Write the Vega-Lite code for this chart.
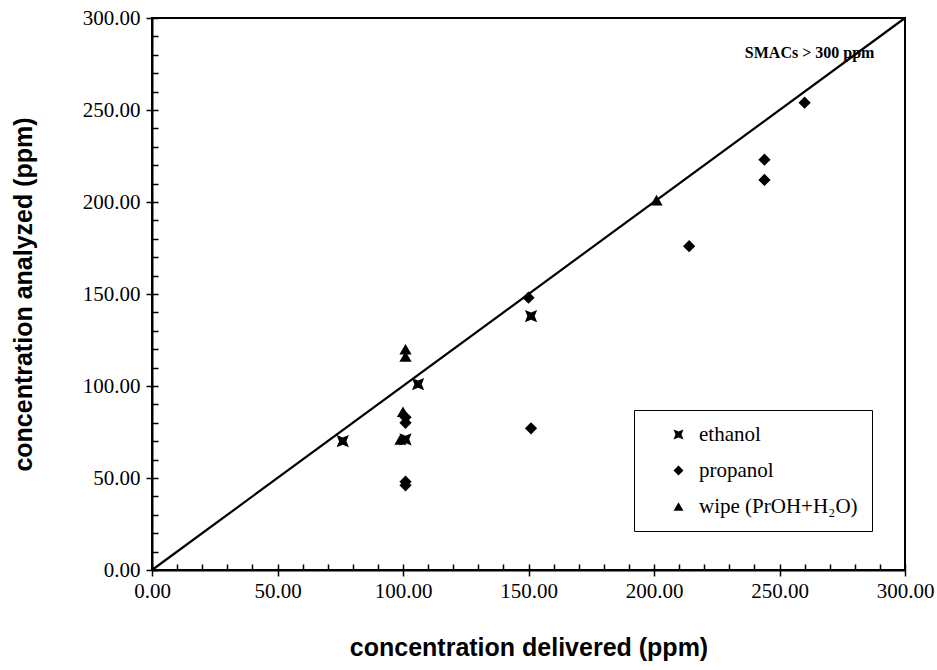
{
  "$schema": "https://vega.github.io/schema/vega-lite/v6.json",
  "width": 753,
  "height": 552,
  "autosize": {"type": "none"},
  "padding": {"left": 152, "top": 18, "right": 32, "bottom": 100},
  "background": "white",
  "config": {
    "view": {"stroke": "black", "strokeWidth": 2},
    "axis": {
      "grid": false,
      "domainColor": "black",
      "domainWidth": 2,
      "tickColor": "black",
      "tickWidth": 1.5,
      "labelFont": "Liberation Serif",
      "labelFontSize": 21,
      "labelColor": "black",
      "titleFont": "Liberation Sans",
      "titleFontWeight": "bold",
      "titleFontSize": 25,
      "titleColor": "black"
    }
  },
  "datasets": {
    "points": [
      {"x": 76, "y": 70, "s": "ethanol"},
      {"x": 101, "y": 71, "s": "ethanol"},
      {"x": 106, "y": 101, "s": "ethanol"},
      {"x": 151, "y": 138, "s": "ethanol"},
      {"x": 101, "y": 83, "s": "propanol"},
      {"x": 101, "y": 80, "s": "propanol"},
      {"x": 101, "y": 48, "s": "propanol"},
      {"x": 101, "y": 46, "s": "propanol"},
      {"x": 150, "y": 148, "s": "propanol"},
      {"x": 151, "y": 77, "s": "propanol"},
      {"x": 214, "y": 176, "s": "propanol"},
      {"x": 244, "y": 223, "s": "propanol"},
      {"x": 244, "y": 212, "s": "propanol"},
      {"x": 260, "y": 254, "s": "propanol"},
      {"x": 101, "y": 120, "s": "wipe (PrOH+H₂O)"},
      {"x": 101, "y": 116, "s": "wipe (PrOH+H₂O)"},
      {"x": 100, "y": 86, "s": "wipe (PrOH+H₂O)"},
      {"x": 99, "y": 71, "s": "wipe (PrOH+H₂O)"},
      {"x": 201, "y": 201, "s": "wipe (PrOH+H₂O)"}
    ],
    "diag": [{"x": 0, "y": 0}, {"x": 300, "y": 300}],
    "note": [{"x": 262, "y": 281, "label": "SMACs > 300 ppm"}]
  },
  "layer": [
    {
      "data": {"name": "diag"},
      "mark": {"type": "line", "color": "black", "strokeWidth": 2.2},
      "encoding": {
        "x": {"field": "x", "type": "quantitative", "scale": {"domain": [0, 300], "nice": false},
          "axis": {"orient": "bottom", "values": [0,10,20,30,40,50,60,70,80,90,100,110,120,130,140,150,160,170,180,190,200,210,220,230,240,250,260,270,280,290,300], "tickSize": -6, "labels": false, "domain": false, "title": null}},
        "y": {"field": "y", "type": "quantitative", "scale": {"domain": [0, 300], "nice": false},
          "axis": {"orient": "left", "values": [0,10,20,30,40,50,60,70,80,90,100,110,120,130,140,150,160,170,180,190,200,210,220,230,240,250,260,270,280,290,300], "tickSize": -6, "labels": false, "domain": false, "title": null}}
      }
    },
    {
      "data": {"name": "points"},
      "mark": {"type": "point", "filled": true, "opacity": 1, "color": "black", "size": 150},
      "encoding": {
        "x": {"field": "x", "type": "quantitative", "scale": {"domain": [0, 300], "nice": false},
          "axis": {"orient": "bottom", "values": [0, 50, 100, 150, 200, 250, 300], "format": ".2f", "tickSize": 6, "labelPadding": 4, "title": "concentration delivered (ppm)", "titlePadding": 34, "labelFlush": false}},
        "y": {"field": "y", "type": "quantitative", "scale": {"domain": [0, 300], "nice": false},
          "axis": {"orient": "left", "values": [0, 50, 100, 150, 200, 250, 300], "format": ".2f", "tickSize": 6, "labelPadding": 6, "title": "concentration analyzed (ppm)", "titlePadding": 46, "labelFlush": false}},
        "shape": {
          "field": "s", "type": "nominal",
          "scale": {"domain": ["ethanol", "propanol", "wipe (PrOH+H₂O)"], "range": ["M-1,-1L0,-0.6L1,-1L0.6,0L1,1L0,0.6L-1,1L-0.6,0Z", "diamond", "triangle-up"]},
          "legend": {"orient": "none", "legendX": 482, "legendY": 392, "title": null, "strokeColor": "black", "fillColor": "white", "padding": 14, "rowPadding": 14, "symbolOffset": 20, "labelFont": "Liberation Serif", "labelFontSize": 21, "labelColor": "black", "labelOffset": 10, "symbolSize": 100, "symbolFillColor": "black", "symbolStrokeColor": "black", "symbolStrokeWidth": 0}
        }
      }
    },
    {
      "data": {"name": "note"},
      "mark": {"type": "text", "font": "Liberation Serif", "fontWeight": "bold", "fontSize": 16, "color": "black"},
      "encoding": {
        "x": {"field": "x", "type": "quantitative", "axis": null},
        "y": {"field": "y", "type": "quantitative", "axis": null},
        "text": {"field": "label"}
      }
    }
  ],
  "resolve": {"scale": {"x": "shared", "y": "shared"}, "axis": {"x": "independent", "y": "independent"}}
}
